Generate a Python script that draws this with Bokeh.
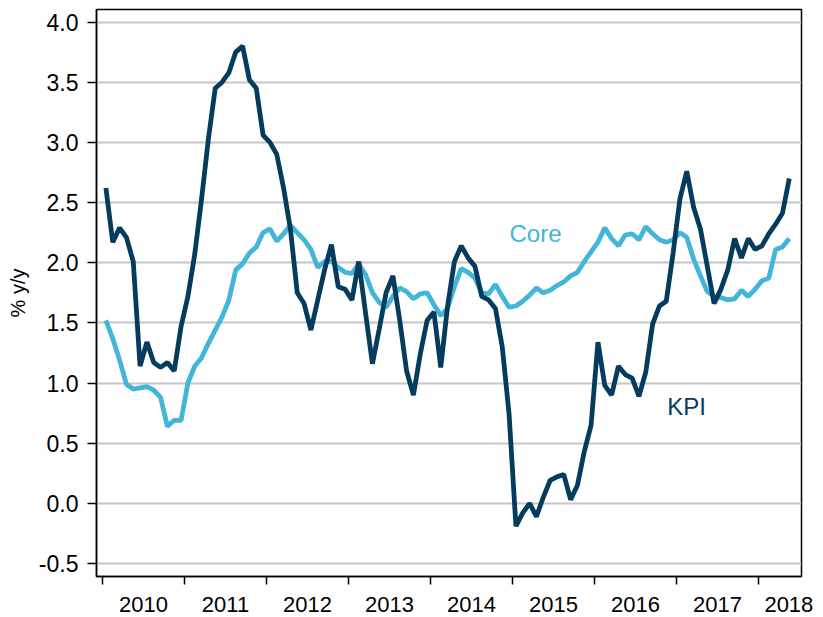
from bokeh.plotting import figure
from bokeh.models import FixedTicker, Range1d, Label, PrintfTickFormatter, ColumnDataSource
from bokeh.embed import file_html
from bokeh.resources import INLINE

# ---- data (monthly, Jan 2010 .. May 2018) ----
start_year = 2010
kpi = [2.62, 2.17, 2.29, 2.21, 2.01, 1.14, 1.34, 1.17, 1.13, 1.17, 1.10, 1.47,
       1.72, 2.07, 2.53, 3.03, 3.45, 3.50, 3.58, 3.75, 3.80, 3.52, 3.45, 3.06,
       3.00, 2.90, 2.62, 2.28, 1.75, 1.66, 1.44, 1.69, 1.94, 2.15, 1.80, 1.78,
       1.69, 2.01, 1.58, 1.16, 1.45, 1.75, 1.89, 1.52, 1.10, 0.90, 1.24, 1.52,
       1.59, 1.13, 1.64, 2.01, 2.14, 2.04, 1.97, 1.72, 1.69, 1.62, 1.30, 0.74,
       -0.19, -0.08, 0.00, -0.11, 0.05, 0.19, 0.22, 0.24, 0.03, 0.15, 0.43, 0.65,
       1.34, 0.98, 0.90, 1.14, 1.07, 1.04, 0.89, 1.09, 1.49, 1.64, 1.68, 2.08,
       2.53, 2.76, 2.46, 2.28, 1.97, 1.66, 1.78, 1.94, 2.20, 2.04, 2.20, 2.11,
       2.14, 2.24, 2.32, 2.41, 2.70]
core = [1.52, 1.37, 1.19, 0.99, 0.95, 0.96, 0.97, 0.94, 0.88, 0.64, 0.69, 0.69,
        1.00, 1.14, 1.21, 1.33, 1.44, 1.55, 1.69, 1.94, 1.99, 2.08, 2.13, 2.25,
        2.28, 2.18, 2.24, 2.31, 2.25, 2.19, 2.11, 1.96, 2.01, 2.01, 1.96, 1.92,
        1.91, 1.99, 1.90, 1.75, 1.67, 1.63, 1.72, 1.79, 1.76, 1.70, 1.74, 1.75,
        1.65, 1.56, 1.62, 1.80, 1.95, 1.92, 1.87, 1.75, 1.74, 1.82, 1.72, 1.63,
        1.64, 1.68, 1.73, 1.79, 1.75, 1.77, 1.81, 1.84, 1.89, 1.92, 2.01, 2.09,
        2.17, 2.29, 2.20, 2.14, 2.23, 2.24, 2.19, 2.30, 2.24, 2.19, 2.17, 2.19,
        2.25, 2.21, 2.03, 1.89, 1.76, 1.72, 1.71, 1.69, 1.70, 1.77, 1.72, 1.78,
        1.85, 1.87, 2.11, 2.13, 2.20]
year_labels = ["2010", "2011", "2012", "2013", "2014", "2015", "2016", "2017", "2018"]
year_bounds = [2010, 2011, 2012, 2013, 2014, 2015, 2016, 2017, 2018]
y_ticks = [-0.5, 0.0, 0.5, 1.0, 1.5, 2.0, 2.5, 3.0, 3.5, 4.0]

# month mid-points as decimal years
x = [start_year + (i + 0.5) / 12 for i in range(len(kpi))]
src = ColumnDataSource(dict(x=x, kpi=kpi, core=core))

KPI_COL = "#053C5E"
CORE_COL = "#43B5D9"
FONT = "Liberation Sans"

p = figure(width=823, height=617,
           x_range=Range1d(2009.927, 2018.524), y_range=Range1d(-0.608, 4.104),
           output_backend="svg", toolbar_location=None,
           min_border_left=96, min_border_right=22, min_border_top=9, min_border_bottom=41)

p.outline_line_color = "black"
p.outline_line_width = 1.5
p.background_fill_color = "white"
p.border_fill_color = "white"

p.line("x", "core", source=src, line_color=CORE_COL, line_width=4.8)
p.line("x", "kpi", source=src, line_color=KPI_COL, line_width=4.8)

# grid
p.xgrid.visible = False
p.ygrid.ticker = FixedTicker(ticks=y_ticks)
p.ygrid.grid_line_color = "#C6C6C6"
p.ygrid.grid_line_width = 1.8

# y axis
ya = p.yaxis[0]
ya.ticker = FixedTicker(ticks=y_ticks)
ya.formatter = PrintfTickFormatter(format="%.1f")
ya.axis_label = "% y/y"
ya.axis_label_text_font = FONT
ya.axis_label_text_font_size = "20px"
ya.axis_label_text_font_style = "normal"
ya.axis_label_text_color = "black"
ya.axis_label_standoff = 7
ya.major_label_text_font = FONT
ya.major_label_text_font_size = "23px"
ya.major_label_text_color = "black"
ya.major_label_standoff = 9
ya.major_tick_out = 9
ya.major_tick_in = 0
ya.minor_tick_line_color = None
ya.axis_line_color = "black"
ya.axis_line_width = 1.5
ya.major_tick_line_color = "black"
ya.major_tick_line_width = 1.5

# x axis: labels at mid-year, ticks at year boundaries
label_pos = [b + 0.5 for b in year_bounds[:-1]] + [2018.37]
xa = p.xaxis[0]
xa.ticker = FixedTicker(ticks=label_pos, minor_ticks=year_bounds)
xa.major_label_overrides = {lp: lab for lp, lab in zip(label_pos, year_labels)}
xa.major_label_text_font = FONT
xa.major_label_text_font_size = "22px"
xa.major_label_text_color = "black"
xa.major_label_standoff = 12
xa.major_tick_out = 0
xa.major_tick_in = 0
xa.major_tick_line_color = None
xa.minor_tick_out = 8
xa.minor_tick_in = 0
xa.minor_tick_line_color = "black"
xa.minor_tick_line_width = 1.5
xa.axis_line_color = "black"
xa.axis_line_width = 1.5

# series labels
p.add_layout(Label(x=2014.963, y=2.245, text="Core", text_color=CORE_COL,
                   text_font=FONT, text_font_size="24px", text_baseline="alphabetic"))
p.add_layout(Label(x=2016.886, y=0.804, text="KPI", text_color=KPI_COL,
                   text_font=FONT, text_font_size="24px", text_baseline="alphabetic"))

open("out.html", "w").write(file_html(p, INLINE))
